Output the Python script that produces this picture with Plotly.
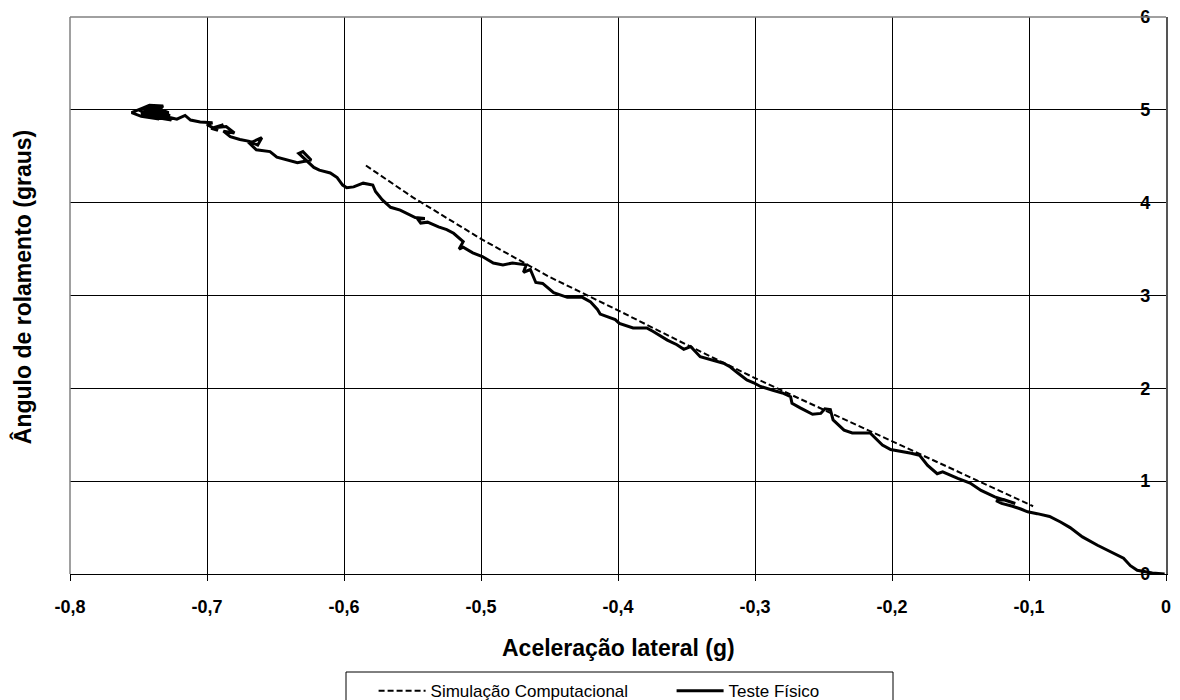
import plotly.graph_objects as go

# Simulated roll angle vs lateral acceleration
sim_accel = [-0.584, -0.55, -0.50, -0.45, -0.40, -0.35, -0.30, -0.25, -0.20, -0.15, -0.097]
sim_roll = [4.40, 4.06, 3.61, 3.20, 2.84, 2.47, 2.11, 1.77, 1.43, 1.09, 0.73]

# Measured roll angle vs lateral acceleration (physical test)
test_accel = [
    -0.001, -0.010, -0.021, -0.026, -0.031, -0.041, -0.050, -0.061, -0.070, -0.077,
    -0.085, -0.094, -0.101, -0.106, -0.112, -0.120, -0.124, -0.118, -0.110, -0.114,
    -0.125, -0.135, -0.143, -0.152, -0.163, -0.167, -0.174, -0.180, -0.186, -0.201,
    -0.207, -0.216, -0.229, -0.235, -0.243, -0.245, -0.249, -0.252, -0.258, -0.267,
    -0.273, -0.274, -0.280, -0.287, -0.296, -0.301, -0.306, -0.313, -0.318, -0.323,
    -0.333, -0.340, -0.347, -0.352, -0.357, -0.364, -0.374, -0.379, -0.389, -0.399,
    -0.402, -0.413, -0.415, -0.420, -0.426, -0.437, -0.447, -0.452, -0.455, -0.460,
    -0.464, -0.469, -0.467, -0.477, -0.484, -0.491, -0.499, -0.506, -0.513, -0.516,
    -0.513, -0.520, -0.525, -0.531, -0.539, -0.544, -0.546, -0.541, -0.548, -0.559,
    -0.566, -0.572, -0.577, -0.579, -0.586, -0.593, -0.598, -0.601, -0.605, -0.610,
    -0.618, -0.622, -0.633, -0.630, -0.624, -0.634, -0.642, -0.649, -0.654, -0.664,
    -0.669, -0.660, -0.663, -0.669, -0.676, -0.683, -0.688, -0.680, -0.686, -0.693,
    -0.688, -0.697, -0.692, -0.700, -0.696, -0.705, -0.712, -0.716, -0.722, -0.728,
    -0.735, -0.745, -0.752, -0.755, -0.748, -0.735, -0.740, -0.732, -0.742, -0.750,
    -0.738, -0.726, -0.731, -0.744, -0.737, -0.728, -0.740, -0.748, -0.742, -0.734,
    -0.739, -0.746, -0.741, -0.733, -0.727, -0.736, -0.744, -0.737, -0.741, -0.733,
    -0.729,
]
test_roll = [
    0.00, 0.01, 0.04, 0.09, 0.17, 0.24, 0.31, 0.40, 0.50, 0.56,
    0.62, 0.65, 0.67, 0.70, 0.73, 0.76, 0.79, 0.80, 0.76, 0.78,
    0.83, 0.90, 0.98, 1.03, 1.10, 1.08, 1.17, 1.28, 1.30, 1.34,
    1.39, 1.52, 1.52, 1.55, 1.66, 1.77, 1.78, 1.73, 1.72, 1.79,
    1.84, 1.91, 1.95, 1.98, 2.02, 2.06, 2.09, 2.17, 2.23, 2.27,
    2.31, 2.34, 2.45, 2.42, 2.47, 2.52, 2.61, 2.65, 2.65, 2.70,
    2.74, 2.80, 2.85, 2.93, 2.98, 2.98, 3.03, 3.09, 3.13, 3.14,
    3.28, 3.25, 3.33, 3.35, 3.33, 3.35, 3.42, 3.46, 3.52, 3.50,
    3.58, 3.67, 3.71, 3.74, 3.79, 3.78, 3.82, 3.83, 3.84, 3.92,
    3.95, 4.03, 4.12, 4.19, 4.21, 4.17, 4.16, 4.19, 4.27, 4.32,
    4.35, 4.38, 4.53, 4.55, 4.46, 4.43, 4.46, 4.49, 4.55, 4.57,
    4.64, 4.70, 4.62, 4.66, 4.68, 4.71, 4.77, 4.75, 4.82, 4.81,
    4.84, 4.80, 4.78, 4.84, 4.86, 4.87, 4.89, 4.94, 4.90, 4.92,
    4.99, 5.03, 4.99, 4.97, 4.93, 4.90, 4.96, 5.04, 5.05, 5.00,
    4.92, 4.89, 4.95, 4.98, 5.02, 4.97, 4.93, 4.96, 5.00, 4.97,
    5.02, 5.01, 4.95, 4.93, 4.94, 4.98, 4.94, 4.95, 5.03, 5.00,
    4.91,
]

x_ticks = [-0.8, -0.7, -0.6, -0.5, -0.4, -0.3, -0.2, -0.1, 0.0]
x_tick_text = ["-0,8", "-0,7", "-0,6", "-0,5", "-0,4", "-0,3", "-0,2", "-0,1", "0"]
y_ticks = [0, 1, 2, 3, 4, 5, 6]

FONT = "Liberation Sans, Arial, sans-serif"

fig = go.Figure()
fig.add_trace(go.Scatter(
    x=sim_accel, y=sim_roll, mode="lines", name="Simulação Computacional",
    line=dict(color="black", width=2, dash="6px,3px"),
))
fig.add_trace(go.Scatter(
    x=test_accel, y=test_roll, mode="lines", name="Teste Físico",
    line=dict(color="black", width=3),
))

fig.update_layout(
    width=1180, height=700,
    margin=dict(l=70, r=14, t=17, b=126, autoexpand=False),
    paper_bgcolor="white", plot_bgcolor="white",
    font=dict(family=FONT, color="black"),
    showlegend=True,
    legend=dict(
        orientation="h", x=0.277, y=-0.178, xanchor="left", yanchor="top",
        bgcolor="rgba(0,0,0,0)", borderwidth=0,
        font=dict(family=FONT, size=17, color="black"),
        itemwidth=47, entrywidth=236, entrywidthmode="pixels",
    ),
    xaxis=dict(
        range=[-0.8, 0], tickvals=x_ticks, ticktext=x_tick_text,
        showgrid=True, gridcolor="black", gridwidth=1,
        showline=True, linecolor="black", linewidth=1,
        ticks="outside", ticklen=6, tickcolor="black",
        ticklabelstandoff=10,
        tickfont=dict(family=FONT, size=18, color="black", weight="bold"),
        zeroline=False,
    ),
    yaxis=dict(
        range=[0, 6], tickvals=y_ticks, side="right",
        ticklabelposition="outside", ticklabelstandoff=-31,
        showgrid=True, gridcolor="black", gridwidth=1,
        showline=True, linecolor="#555555", linewidth=1.5,
        ticks="",
        tickfont=dict(family=FONT, size=18, color="black", weight="bold"),
        zeroline=False,
    ),
    annotations=[
        dict(text="Aceleração lateral (g)", xref="paper", yref="paper",
             x=0.5, y=-0.133, xanchor="center", yanchor="middle", showarrow=False,
             font=dict(family=FONT, size=23, color="black", weight="bold")),
        dict(text="Ângulo de rolamento (graus)", xref="paper", yref="paper",
             x=-0.0438, y=0.515, xanchor="center", yanchor="middle", showarrow=False,
             textangle=-90,
             font=dict(family=FONT, size=23, color="black", weight="bold")),
    ],
    shapes=[
        # gray frame on the left and top edges of the plotting area
        dict(type="line", xref="paper", yref="paper", x0=0, x1=0, y0=0, y1=1,
             line=dict(color="#808080", width=1.5), layer="above"),
        dict(type="line", xref="paper", yref="paper", x0=0, x1=1, y0=1, y1=1,
             line=dict(color="#808080", width=1.5), layer="above"),
        # legend box
        dict(type="rect", xref="paper", yref="paper",
             x0=(346 - 70) / 1096, x1=(893 - 70) / 1096,
             y0=(574 - 706) / 557, y1=(574 - 672) / 557,
             line=dict(color="black", width=1), fillcolor="white", layer="below"),
    ],
)

fig.write_html("out.html")
